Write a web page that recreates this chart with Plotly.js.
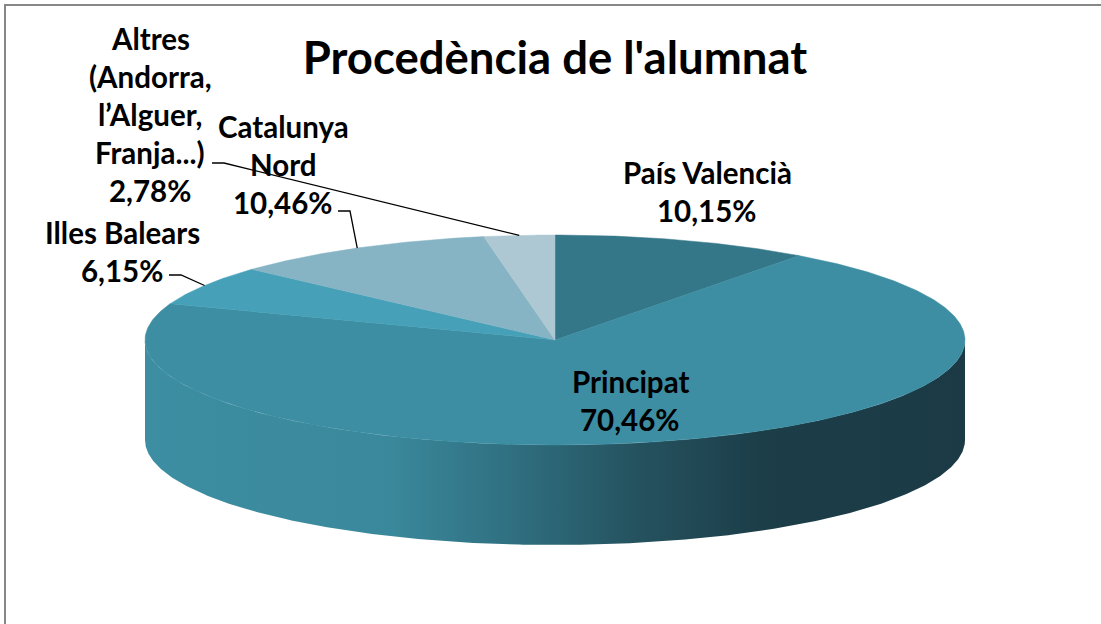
<!DOCTYPE html>
<html>
<head>
<meta charset="utf-8">
<script src="https://cdn.plot.ly/plotly-3.0.1.min.js"></script>
<style>html,body{margin:0;padding:0;background:#fff;}#chart{width:1101px;height:624px;}</style>
</head>
<body>
<div id="chart"></div>
<script>
// ---- data ----
const categories = ['País Valencià', 'Principat', 'Illes Balears', 'Catalunya Nord', 'Altres (Andorra, l’Alguer, Franja...)'];
const values = [10.15, 70.46, 6.15, 10.46, 2.78];
const labelLines = [['País Valencià'], ['Principat'], ['Illes Balears'], ['Catalunya', 'Nord'], ['Altres', '(Andorra,', 'l’Alguer,', 'Franja...)']];
const chartTitle = "Procedència de l'alumnat";

// ---- style ----
const topColors = ['#347789', '#3d8ea3', '#46a1b8', '#86b4c4', '#adc8d3'];
const sideScale = [[0, '#3d8ea2'], [0.3, '#3a889b'], [0.45, '#2f6f80'], [0.6, '#25525f'], [0.75, '#1c3e49'], [1, '#1b3a45']];
const geo = {cx: 555, cy: 340, rx: 410, ry: 105, depth: 100};
const labelPos = [[707, 172], [630, 381], [122, 232], [283, 126], [150, 38]];
const lineGap = 38;
// leader line: label-side start point and elbow point (null = no leader)
const leaderStart = [null, null, [169, 275], [338, 211], [212, 163]];
const leaderElbow = [null, null, [181, 275], [350, 211], [224, 163]];
const FONT = 'Lato, "Open Sans", sans-serif';

function pt(deg, dy) {
  const r = deg * Math.PI / 180;
  return [geo.cx + geo.rx * Math.sin(r), geo.cy - geo.ry * Math.cos(r) + (dy || 0)];
}
function arc(a, b, dy) {
  const pts = [];
  const n = Math.max(2, Math.ceil(Math.abs(b - a) / 0.5));
  for (let i = 0; i <= n; i++) pts.push(pt(a + (b - a) * i / n, dy));
  return pts;
}

const total = values.reduce((s, v) => s + v, 0);
const starts = [], ends = [];
let acc = 0;
values.forEach(v => { starts.push(acc / total * 360); acc += v; ends.push(acc / total * 360); });

const traces = [];
// side walls (front half: 90..270 deg)
values.forEach((v, i) => {
  const a = Math.max(starts[i], 90), b = Math.min(ends[i], 270);
  if (b <= a) return;
  const top = arc(a, b, 0);
  const bot = arc(b, a, geo.depth);
  const all = top.concat(bot);
  all.push(top[0]);
  traces.push({
    type: 'scatter', mode: 'lines', x: all.map(p => p[0]), y: all.map(p => p[1]),
    fill: 'toself', line: {width: 0, color: 'rgba(0,0,0,0)'},
    fillgradient: {type: 'horizontal', colorscale: sideScale},
    hoverinfo: 'skip', showlegend: false
  });
});
// top faces
values.forEach((v, i) => {
  const pts = [[geo.cx, geo.cy]].concat(arc(starts[i], ends[i], 0));
  pts.push([geo.cx, geo.cy]);
  traces.push({
    type: 'scatter', mode: 'lines', x: pts.map(p => p[0]), y: pts.map(p => p[1]),
    fill: 'toself', fillcolor: topColors[i], line: {width: 0.5, color: topColors[i]},
    name: categories[i], hoverinfo: 'name', showlegend: false
  });
});
// leader lines
values.forEach((v, i) => {
  if (!leaderStart[i]) return;
  const end = pt((starts[i] + ends[i]) / 2, 0);
  const pts = [leaderStart[i], leaderElbow[i], end];
  traces.push({
    type: 'scatter', mode: 'lines', x: pts.map(p => p[0]), y: pts.map(p => p[1]),
    line: {width: 1.3, color: '#000'}, hoverinfo: 'skip', showlegend: false
  });
});

const annotations = [];
values.forEach((v, i) => {
  const lines = labelLines[i].concat([v.toFixed(2).replace('.', ',') + '%']);
  lines.forEach((t, k) => {
    annotations.push({
      x: labelPos[i][0], y: labelPos[i][1] + k * lineGap, xref: 'x', yref: 'y',
      text: '<b>' + t + '</b>', showarrow: false, xanchor: 'center', yanchor: 'middle',
      font: {family: FONT, size: 29.5, color: '#000', weight: 900}
    });
  });
});

const layout = {
  width: 1101, height: 624,
  margin: {l: 0, r: 0, t: 0, b: 0},
  paper_bgcolor: '#fff', plot_bgcolor: '#fff',
  title: {text: '<b>' + chartTitle + '</b>', x: 0.504, xanchor: 'center', xref: 'paper',
          y: 1 - 58 / 624, yanchor: 'middle', yref: 'container',
          font: {family: FONT, size: 45.5, color: '#000', weight: 900}},
  xaxis: {range: [0, 1101], visible: false, fixedrange: true},
  yaxis: {range: [624, 0], visible: false, fixedrange: true},
  showlegend: false,
  annotations: annotations,
  shapes: [{type: 'rect', xref: 'x', yref: 'y', x0: 5, y0: 5, x1: 1200, y1: 700,
            line: {color: '#878787', width: 2}, fillcolor: 'rgba(0,0,0,0)'}]
};

Plotly.newPlot('chart', traces, layout, {displayModeBar: false, staticPlot: true});
</script>
</body>
</html>
